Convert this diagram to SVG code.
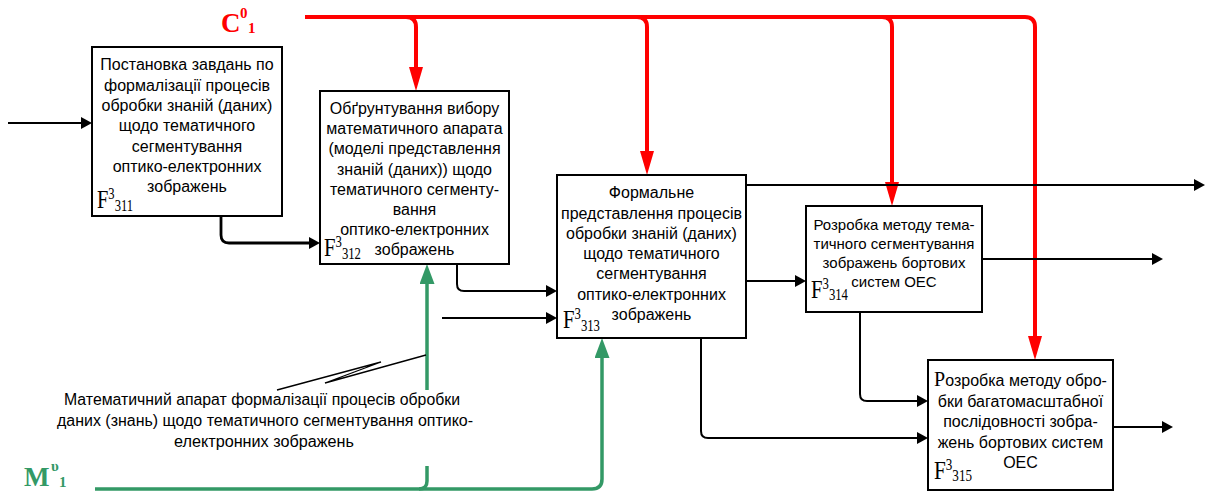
<svg xmlns="http://www.w3.org/2000/svg" width="1205" height="492" viewBox="0 0 1205 492">
<style>
.box{fill:#fff;stroke:#000;stroke-width:2}
.t{font-family:"Liberation Sans",Arial,sans-serif;font-size:16px;fill:#000;text-anchor:middle}
.t15{font-size:15px}
.f{font-family:"Liberation Serif","Times New Roman",serif;font-size:26px;fill:#000}
.fs{font-size:16px}
.blk{fill:none;stroke:#000;stroke-width:2}
.red{fill:none;stroke:#ff0000;stroke-width:4}
.grn{fill:none;stroke:#339966;stroke-width:3.5}
.lbl{font-family:"Liberation Sans",Arial,sans-serif;font-size:16px;fill:#000;text-anchor:middle}
</style>
<defs>
<marker id="ab" viewBox="0 0 11 12" refX="2" refY="6" markerWidth="11" markerHeight="12" markerUnits="userSpaceOnUse" orient="auto"><path d="M0,0 L11,6 L0,12 z" fill="#000"/></marker>
<marker id="ar" viewBox="0 0 24 14" refX="6" refY="7" markerWidth="24" markerHeight="14" markerUnits="userSpaceOnUse" orient="auto"><path d="M0,0 L24,7 L0,14 z" fill="#ff0000"/></marker>
<marker id="ag" viewBox="0 0 20 15" refX="5" refY="7.5" markerWidth="20" markerHeight="15" markerUnits="userSpaceOnUse" orient="auto"><path d="M0,0 L20,7.5 L0,15 z" fill="#339966"/></marker>
</defs>

<g id="connectors">
<path class="red" d="M305,17 H1025 Q1035,17 1035,27 V342" marker-end="url(#ar)"/>
<path class="red" d="M406,17 Q416,17 416,27 V73" marker-end="url(#ar)"/>
<path class="red" d="M637,17 Q647,17 647,27 V157" marker-end="url(#ar)"/>
<path class="red" d="M882,17 Q892,17 892,27 V188" marker-end="url(#ar)"/>

<path class="grn" d="M95,489 H592 Q602,489 602,479 V353" marker-end="url(#ag)"/>
<path class="grn" d="M427,390 V279" marker-end="url(#ag)"/>
<path class="grn" d="M427,466 V481 Q427,489 419,489"/>

<path class="blk" style="stroke-width:1.8" d="M8,123 H83" marker-end="url(#ab)"/>
<path class="blk" style="stroke-width:2.8" d="M221,205 V235 Q221,243 229,243 H311" marker-end="url(#ab)"/>
<path class="blk" d="M457,264 V284 Q457,291 464,291 H548" marker-end="url(#ab)"/>
<path class="blk" style="stroke-width:1.8" d="M442,318 H548" marker-end="url(#ab)"/>
<path class="blk" d="M746,281 H797" marker-end="url(#ab)"/>
<path class="blk" d="M746,185 H1196" marker-end="url(#ab)"/>
<path class="blk" d="M982,259 H1154" marker-end="url(#ab)"/>
<path class="blk" d="M701,338 V431 Q701,438 708,438 H919" marker-end="url(#ab)"/>
<path class="blk" d="M860,312 V394 Q860,401 867,401 H919" marker-end="url(#ab)"/>
<path class="blk" d="M1113,427 H1164" marker-end="url(#ab)"/>

<polyline points="426,355 325,383 381,362 277,390" fill="none" stroke="#000" stroke-width="1.3"/>
</g>

<g id="label-C">
<text font-family="'Liberation Serif','Times New Roman',serif" font-weight="bold" fill="#ff0000"><tspan x="221" y="32" font-size="27">C</tspan><tspan x="240" y="18" font-size="15">0</tspan><tspan x="248" y="33" font-size="15">1</tspan></text>
</g>

<g id="label-M">
<text font-family="'Liberation Serif','Times New Roman',serif" font-weight="bold" fill="#339966"><tspan x="24" y="486" font-size="27">M</tspan><tspan x="51" y="471" font-size="15">υ</tspan><tspan x="59" y="487" font-size="15">1</tspan></text>
</g>

<g id="node-F311">
<rect class="box" x="92" y="47" width="190" height="169"/>
<text class="t" x="187" y="70">Постановка завдань по</text>
<text class="t" x="187" y="90.5">формалізації процесів</text>
<text class="t" x="187" y="111">обробки знаній (даних)</text>
<text class="t" x="187" y="131">щодо тематичного</text>
<text class="t" x="187" y="151.5">сегментування</text>
<text class="t" x="187" y="172">оптико-електронних</text>
<text class="t" x="187" y="192">зображень</text>
<text class="f" x="97" y="208" textLength="36" lengthAdjust="spacingAndGlyphs">F<tspan class="fs" dy="-9">3</tspan><tspan class="fs" dy="12">311</tspan></text>
</g>

<g id="node-F312">
<rect class="box" x="320" y="91" width="189" height="173"/>
<text class="t" x="414.5" y="114">Обґрунтування вибору</text>
<text class="t" x="414.5" y="134">математичного апарата</text>
<text class="t" x="414.5" y="154">(моделі представлення</text>
<text class="t" x="414.5" y="175">знаній (даних)) щодо</text>
<text class="t" x="414.5" y="195">тематичного сегменту-</text>
<text class="t" x="414.5" y="215">вання</text>
<text class="t" x="414.5" y="235">оптико-електронних</text>
<text class="t" x="414.5" y="255">зображень</text>
<text class="f" x="324" y="256" textLength="37" lengthAdjust="spacingAndGlyphs">F<tspan class="fs" dy="-9">3</tspan><tspan class="fs" dy="12">312</tspan></text>
</g>

<g id="node-F313">
<rect class="box" x="557" y="175" width="189" height="163"/>
<text class="t" x="651.5" y="198">Формальне</text>
<text class="t" x="651.5" y="218.5">представлення процесів</text>
<text class="t" x="651.5" y="238.5">обробки знаній (даних)</text>
<text class="t" x="651.5" y="259">щодо тематичного</text>
<text class="t" x="651.5" y="279">сегментування</text>
<text class="t" x="651.5" y="299.5">оптико-електронних</text>
<text class="t" x="651.5" y="320">зображень</text>
<text class="f" x="563" y="328" textLength="37" lengthAdjust="spacingAndGlyphs">F<tspan class="fs" dy="-9">3</tspan><tspan class="fs" dy="12">313</tspan></text>
</g>

<g id="node-F314">
<rect class="box" x="806" y="206" width="176" height="106"/>
<text class="t t15" x="894" y="229.5">Розробка методу тема-</text>
<text class="t t15" x="894" y="248.5">тичного сегментування</text>
<text class="t t15" x="894" y="267.5">зображень бортових</text>
<text class="t t15" x="894" y="286.5">систем ОЕС</text>
<text class="f" x="811" y="298" textLength="37" lengthAdjust="spacingAndGlyphs">F<tspan class="fs" dy="-9">3</tspan><tspan class="fs" dy="11">314</tspan></text>
</g>

<g id="node-F315">
<rect class="box" x="928" y="360" width="185" height="130"/>
<text class="t" x="1020.5" y="386"><tspan font-family="'Liberation Serif','Times New Roman',serif" font-size="20">Р</tspan>озробка методу обро-</text>
<text class="t" x="1020.5" y="406.5">бки багатомасштабної</text>
<text class="t" x="1020.5" y="427">послідовності зобра-</text>
<text class="t" x="1020.5" y="447.5">жень бортових систем</text>
<text class="t" x="1020.5" y="468">ОЕС</text>
<text class="f" x="934" y="479" textLength="38" lengthAdjust="spacingAndGlyphs">F<tspan class="fs" dy="-9">3</tspan><tspan class="fs" dy="11">315</tspan></text>
</g>

<g id="label-mechanism">
<text class="lbl" x="262" y="405" textLength="396" lengthAdjust="spacingAndGlyphs">Математичний апарат формалізації процесів обробки</text>
<text class="lbl" x="265" y="426" textLength="416" lengthAdjust="spacingAndGlyphs">даних (знань) щодо тематичного сегментування оптико-</text>
<text class="lbl" x="264" y="447" textLength="180" lengthAdjust="spacingAndGlyphs">електронних зображень</text>
</g>
</svg>
